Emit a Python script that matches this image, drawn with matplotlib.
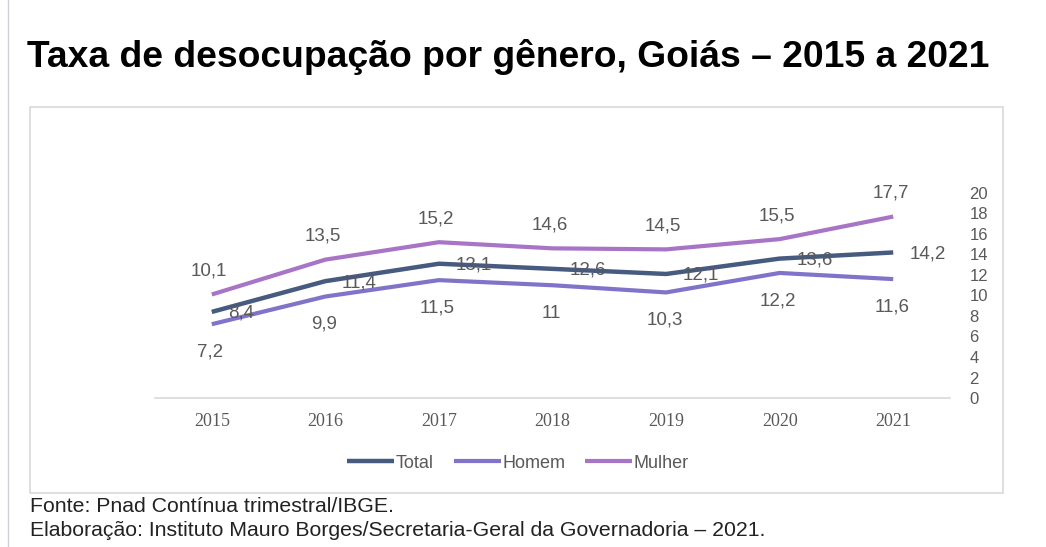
import matplotlib
matplotlib.use("Agg")
import matplotlib.pyplot as plt
from matplotlib.patches import Rectangle
from matplotlib.lines import Line2D

anos = ["2015", "2016", "2017", "2018", "2019", "2020", "2021"]
total = [8.4, 11.4, 13.1, 12.6, 12.1, 13.6, 14.2]
homem = [7.2, 9.9, 11.5, 11.0, 10.3, 12.2, 11.6]
mulher = [10.1, 13.5, 15.2, 14.6, 14.5, 15.5, 17.7]
yticks = list(range(0, 21, 2))

c_total = "#475A80"
c_homem = "#7F74C9"
c_mulher = "#A874C6"
cinza = "#595959"

plt.rcParams['font.family'] = ['Liberation Sans', 'DejaVu Sans']

fig = plt.figure(figsize=(10.46, 5.47), dpi=100)

# moldura do grafico e linha lateral
fig.patches.append(Rectangle((30 / 1046, 1 - 493 / 547), 973 / 1046, 386 / 547,
                             transform=fig.transFigure, fill=False,
                             edgecolor="#D9D9D9", lw=1.2))
fig.lines.append(Line2D([8 / 1046, 8 / 1046], [0, 1], transform=fig.transFigure,
                        color="#D0D0D8", lw=1))

ax = fig.add_axes([155 / 1046, 1 - 398 / 547, 795 / 1046, 205 / 547])
x = list(range(len(anos)))
ax.plot(x, total, color=c_total, lw=3.2, label="Total", solid_capstyle="butt")
ax.plot(x, homem, color=c_homem, lw=3, label="Homem", solid_capstyle="butt")
ax.plot(x, mulher, color=c_mulher, lw=3, label="Mulher", solid_capstyle="butt")

def fmt(v):
    return ("%g" % v).replace(".", ",")

for i in x:
    ax.annotate(fmt(total[i]), (i, total[i]), xytext=(12, -1), textcoords="offset points",
                ha="left", va="center", fontsize=13.5, color=cinza)
    ax.annotate(fmt(homem[i]), (i, homem[i]), xytext=(-1, -20), textcoords="offset points",
                ha="center", va="center", fontsize=13.5, color=cinza)
    ax.annotate(fmt(mulher[i]), (i, mulher[i]), xytext=(-2, 17), textcoords="offset points",
                ha="center", va="center", fontsize=13.5, color=cinza)

ax.set_xlim(-0.5, len(anos) - 0.5)
ax.set_ylim(0, 20)
ax.set_xticks(x)
ax.set_xticklabels(anos, family="Liberation Serif", fontsize=13, color=cinza)
ax.yaxis.tick_right()
ax.set_yticks(yticks)
ax.tick_params(axis="y", length=0, pad=14, labelsize=12, labelcolor=cinza)
ax.tick_params(axis="x", length=0, pad=11)
for s in ["top", "left", "right"]:
    ax.spines[s].set_visible(False)
ax.spines["bottom"].set_color("#D9D9D9")
ax.spines["bottom"].set_linewidth(1.2)
ax.set_facecolor("none")

leg = fig.legend(loc="center", bbox_to_anchor=(518 / 1046, 1 - 463 / 547), ncol=3,
                 frameon=False, fontsize=13, handlelength=2.6, handletextpad=0.1,
                 columnspacing=1.1)
for t in leg.get_texts():
    t.set_color(cinza)

fig.text(27 / 1046, 1 - 57 / 547, "Taxa de desocupação por gênero, Goiás – 2015 a 2021",
         fontsize=26.8, fontweight="bold", va="center", ha="left", color="black")

fig.text(30 / 1046, 1 - 506 / 547, "Fonte: Pnad Contínua trimestral/IBGE.",
         fontsize=15.3, va="center", ha="left", color="#222222")
fig.text(30 / 1046, 1 - 530 / 547,
         "Elaboração: Instituto Mauro Borges/Secretaria-Geral da Governadoria – 2021.",
         fontsize=15.3, va="center", ha="left", color="#222222")

fig.savefig("out.png", dpi=100, facecolor="white")
